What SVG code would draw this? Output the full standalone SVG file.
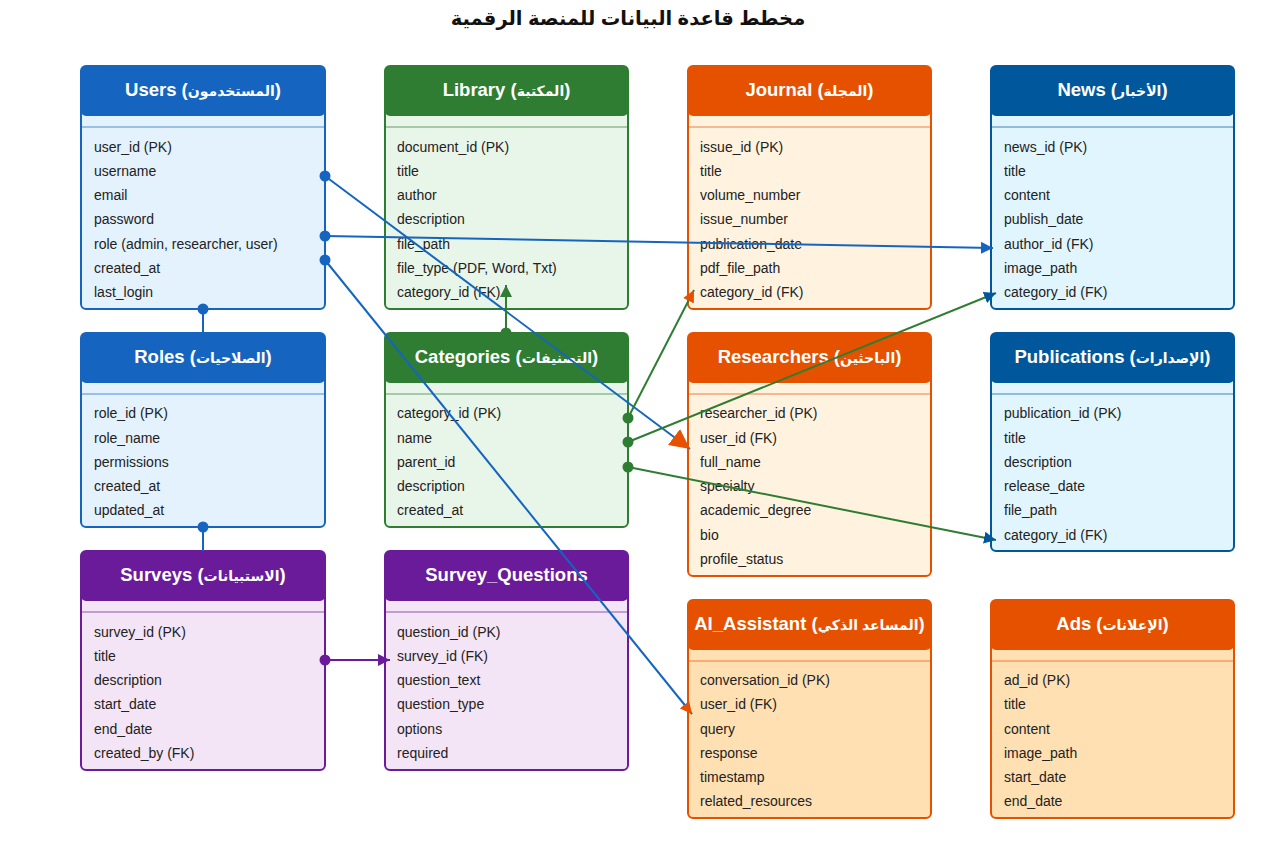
<svg xmlns="http://www.w3.org/2000/svg" width="1268" height="861" viewBox="0 0 1268 861">
  <style>
    text { font-family: "Liberation Sans", "DejaVu Sans", Arial, sans-serif; }
    .title { font-size: 19.5px; font-weight: bold; fill: #111; }
    .hdr { font-size: 18.5px; font-weight: bold; fill: #fff; }
    .ar { font-size: 14px; }
    .fld { font-size: 14px; fill: #222; }
    .box { stroke-width: 2; }
    .sep { stroke-width: 1.2; opacity: 0.7; }
    .blue .box { fill: #E3F2FD; stroke: #1565C0; } .blue .head { fill: #1565C0; } .blue .sep { stroke: #1565C0; }
    .green .box { fill: #E8F5E9; stroke: #2E7D32; } .green .head { fill: #2E7D32; } .green .sep { stroke: #2E7D32; }
    .orange .box { fill: #FFF3E0; stroke: #E65100; } .orange .head { fill: #E65100; } .orange .sep { stroke: #E65100; }
    .amber .box { fill: #FFE0B2; stroke: #E65100; } .amber .head { fill: #E65100; } .amber .sep { stroke: #E65100; }
    .navy .box { fill: #E1F5FE; stroke: #01579B; } .navy .head { fill: #01579B; } .navy .sep { stroke: #01579B; }
    .purple .box { fill: #F3E5F5; stroke: #6A1B9A; } .purple .head { fill: #6A1B9A; } .purple .sep { stroke: #6A1B9A; }
    .link { fill: none; stroke-width: 2; }
    .l-blue { stroke: #1565C0; } .l-green { stroke: #2E7D32; } .l-purple { stroke: #6A1B9A; }
  </style>
  <defs>
    <marker id="arr-orange" viewBox="0 0 10 10" refX="10" refY="5" markerWidth="12" markerHeight="12" markerUnits="userSpaceOnUse" orient="auto"><path d="M0,0 L10,5 L0,10 z" fill="#E65100"/></marker>
    <marker id="arr-orange-lg" viewBox="0 0 10 10" refX="10" refY="5" markerWidth="20" markerHeight="20" markerUnits="userSpaceOnUse" orient="auto"><path d="M0,0 L10,5 L0,10 z" fill="#E65100"/></marker>
    <marker id="arr-blue" viewBox="0 0 10 10" refX="10" refY="5" markerWidth="12" markerHeight="12" markerUnits="userSpaceOnUse" orient="auto"><path d="M0,0 L10,5 L0,10 z" fill="#1565C0"/></marker>
    <marker id="arr-navy" viewBox="0 0 10 10" refX="10" refY="5" markerWidth="12" markerHeight="12" markerUnits="userSpaceOnUse" orient="auto"><path d="M0,0 L10,5 L0,10 z" fill="#01579B"/></marker>
    <marker id="arr-green" viewBox="0 0 10 10" refX="10" refY="5" markerWidth="12" markerHeight="12" markerUnits="userSpaceOnUse" orient="auto"><path d="M0,0 L10,5 L0,10 z" fill="#2E7D32"/></marker>
    <marker id="arr-purple" viewBox="0 0 10 10" refX="10" refY="5" markerWidth="12" markerHeight="12" markerUnits="userSpaceOnUse" orient="auto"><path d="M0,0 L10,5 L0,10 z" fill="#6A1B9A"/></marker>
  </defs>

  <rect width="1268" height="861" fill="#ffffff"/>
  <text class="title" x="628" y="25" text-anchor="middle">مخطط قاعدة البيانات للمنصة الرقمية</text>

  <!-- Row 1 -->
  <g id="users" class="blue" transform="translate(81,66)">
    <rect class="box" width="244" height="243" rx="5"/>
    <rect class="head" width="244" height="50" rx="5"/>
    <line class="sep" x1="0" y1="61" x2="244" y2="61"/>
    <text class="hdr" x="122" y="30" text-anchor="middle">Users (<tspan class="ar">المستخدمون</tspan>)</text>
    <text class="fld" x="13" y="86">user_id (PK)</text>
    <text class="fld" x="13" y="110">username</text>
    <text class="fld" x="13" y="134">email</text>
    <text class="fld" x="13" y="158">password</text>
    <text class="fld" x="13" y="183">role (admin, researcher, user)</text>
    <text class="fld" x="13" y="207">created_at</text>
    <text class="fld" x="13" y="231">last_login</text>
  </g>

  <g id="library" class="green" transform="translate(385,66)">
    <rect class="box" width="243" height="243" rx="5"/>
    <rect class="head" width="243" height="50" rx="5"/>
    <line class="sep" x1="0" y1="61" x2="243" y2="61"/>
    <text class="hdr" x="121.5" y="30" text-anchor="middle">Library (<tspan class="ar">المكتبة</tspan>)</text>
    <text class="fld" x="12" y="86">document_id (PK)</text>
    <text class="fld" x="12" y="110">title</text>
    <text class="fld" x="12" y="134">author</text>
    <text class="fld" x="12" y="158">description</text>
    <text class="fld" x="12" y="183">file_path</text>
    <text class="fld" x="12" y="207">file_type (PDF, Word, Txt)</text>
    <text class="fld" x="12" y="231">category_id (FK)</text>
  </g>

  <g id="journal" class="orange" transform="translate(688,66)">
    <rect class="box" width="243" height="243" rx="5"/>
    <rect class="head" width="243" height="50" rx="5"/>
    <line class="sep" x1="0" y1="61" x2="243" y2="61"/>
    <text class="hdr" x="121.5" y="30" text-anchor="middle">Journal (<tspan class="ar">المجلة</tspan>)</text>
    <text class="fld" x="12" y="86">issue_id (PK)</text>
    <text class="fld" x="12" y="110">title</text>
    <text class="fld" x="12" y="134">volume_number</text>
    <text class="fld" x="12" y="158">issue_number</text>
    <text class="fld" x="12" y="183">publication_date</text>
    <text class="fld" x="12" y="207">pdf_file_path</text>
    <text class="fld" x="12" y="231">category_id (FK)</text>
  </g>

  <g id="news" class="navy" transform="translate(991,66)">
    <rect class="box" width="243" height="243" rx="5"/>
    <rect class="head" width="243" height="50" rx="5"/>
    <line class="sep" x1="0" y1="61" x2="243" y2="61"/>
    <text class="hdr" x="121.5" y="30" text-anchor="middle">News (<tspan class="ar">الأخبار</tspan>)</text>
    <text class="fld" x="13" y="86">news_id (PK)</text>
    <text class="fld" x="13" y="110">title</text>
    <text class="fld" x="13" y="134">content</text>
    <text class="fld" x="13" y="158">publish_date</text>
    <text class="fld" x="13" y="183">author_id (FK)</text>
    <text class="fld" x="13" y="207">image_path</text>
    <text class="fld" x="13" y="231">category_id (FK)</text>
  </g>

  <!-- Row 2 -->
  <g id="roles" class="blue" transform="translate(81,333)">
    <rect class="box" width="244" height="194" rx="5"/>
    <rect class="head" width="244" height="50" rx="5"/>
    <line class="sep" x1="0" y1="61" x2="244" y2="61"/>
    <text class="hdr" x="122" y="30" text-anchor="middle">Roles (<tspan class="ar">الصلاحيات</tspan>)</text>
    <text class="fld" x="13" y="85">role_id (PK)</text>
    <text class="fld" x="13" y="110">role_name</text>
    <text class="fld" x="13" y="134">permissions</text>
    <text class="fld" x="13" y="158">created_at</text>
    <text class="fld" x="13" y="182">updated_at</text>
  </g>

  <g id="categories" class="green" transform="translate(385,333)">
    <rect class="box" width="243" height="194" rx="5"/>
    <rect class="head" width="243" height="50" rx="5"/>
    <line class="sep" x1="0" y1="61" x2="243" y2="61"/>
    <text class="hdr" x="121.5" y="30" text-anchor="middle">Categories (<tspan class="ar">التصنيفات</tspan>)</text>
    <text class="fld" x="12" y="85">category_id (PK)</text>
    <text class="fld" x="12" y="110">name</text>
    <text class="fld" x="12" y="134">parent_id</text>
    <text class="fld" x="12" y="158">description</text>
    <text class="fld" x="12" y="182">created_at</text>
  </g>

  <g id="researchers" class="orange" transform="translate(688,333)">
    <rect class="box" width="243" height="243" rx="5"/>
    <rect class="head" width="243" height="50" rx="5"/>
    <line class="sep" x1="0" y1="61" x2="243" y2="61"/>
    <text class="hdr" x="121.5" y="30" text-anchor="middle">Researchers (<tspan class="ar">الباحثين</tspan>)</text>
    <text class="fld" x="12" y="85">researcher_id (PK)</text>
    <text class="fld" x="12" y="110">user_id (FK)</text>
    <text class="fld" x="12" y="134">full_name</text>
    <text class="fld" x="12" y="158">specialty</text>
    <text class="fld" x="12" y="182">academic_degree</text>
    <text class="fld" x="12" y="207">bio</text>
    <text class="fld" x="12" y="231">profile_status</text>
  </g>

  <g id="publications" class="navy" transform="translate(991,333)">
    <rect class="box" width="243" height="218" rx="5"/>
    <rect class="head" width="243" height="50" rx="5"/>
    <line class="sep" x1="0" y1="61" x2="243" y2="61"/>
    <text class="hdr" x="121.5" y="30" text-anchor="middle">Publications (<tspan class="ar">الإصدارات</tspan>)</text>
    <text class="fld" x="13" y="85">publication_id (PK)</text>
    <text class="fld" x="13" y="110">title</text>
    <text class="fld" x="13" y="134">description</text>
    <text class="fld" x="13" y="158">release_date</text>
    <text class="fld" x="13" y="182">file_path</text>
    <text class="fld" x="13" y="207">category_id (FK)</text>
  </g>

  <!-- Row 3 -->
  <g id="surveys" class="purple" transform="translate(81,551)">
    <rect class="box" width="244" height="219" rx="5"/>
    <rect class="head" width="244" height="50" rx="5"/>
    <line class="sep" x1="0" y1="61" x2="244" y2="61"/>
    <text class="hdr" x="122" y="30" text-anchor="middle">Surveys (<tspan class="ar">الاستبيانات</tspan>)</text>
    <text class="fld" x="13" y="86">survey_id (PK)</text>
    <text class="fld" x="13" y="110">title</text>
    <text class="fld" x="13" y="134">description</text>
    <text class="fld" x="13" y="158">start_date</text>
    <text class="fld" x="13" y="183">end_date</text>
    <text class="fld" x="13" y="207">created_by (FK)</text>
  </g>

  <g id="survey_questions" class="purple" transform="translate(385,551)">
    <rect class="box" width="243" height="219" rx="5"/>
    <rect class="head" width="243" height="50" rx="5"/>
    <line class="sep" x1="0" y1="61" x2="243" y2="61"/>
    <text class="hdr" x="121.5" y="30" text-anchor="middle">Survey_Questions</text>
    <text class="fld" x="12" y="86">question_id (PK)</text>
    <text class="fld" x="12" y="110">survey_id (FK)</text>
    <text class="fld" x="12" y="134">question_text</text>
    <text class="fld" x="12" y="158">question_type</text>
    <text class="fld" x="12" y="183">options</text>
    <text class="fld" x="12" y="207">required</text>
  </g>

  <g id="ai_assistant" class="amber" transform="translate(688,600)">
    <rect class="box" width="243" height="218" rx="5"/>
    <rect class="head" width="243" height="50" rx="5"/>
    <line class="sep" x1="0" y1="61" x2="243" y2="61"/>
    <text class="hdr" x="121.5" y="30" text-anchor="middle">AI_Assistant (<tspan class="ar">المساعد الذكي</tspan>)</text>
    <text class="fld" x="12" y="85">conversation_id (PK)</text>
    <text class="fld" x="12" y="109">user_id (FK)</text>
    <text class="fld" x="12" y="134">query</text>
    <text class="fld" x="12" y="158">response</text>
    <text class="fld" x="12" y="182">timestamp</text>
    <text class="fld" x="12" y="206">related_resources</text>
  </g>

  <g id="ads" class="amber" transform="translate(991,600)">
    <rect class="box" width="243" height="218" rx="5"/>
    <rect class="head" width="243" height="50" rx="5"/>
    <line class="sep" x1="0" y1="61" x2="243" y2="61"/>
    <text class="hdr" x="121.5" y="30" text-anchor="middle">Ads (<tspan class="ar">الإعلانات</tspan>)</text>
    <text class="fld" x="13" y="85">ad_id (PK)</text>
    <text class="fld" x="13" y="109">title</text>
    <text class="fld" x="13" y="134">content</text>
    <text class="fld" x="13" y="158">image_path</text>
    <text class="fld" x="13" y="182">start_date</text>
    <text class="fld" x="13" y="206">end_date</text>
  </g>

  <!-- Relationships -->
  <g id="connectors">
    <line class="link l-blue" x1="203" y1="309" x2="203" y2="333"/>
    <line class="link l-blue" x1="203" y1="527" x2="203" y2="551"/>
    <line class="link l-blue" x1="325" y1="176" x2="690" y2="449" marker-end="url(#arr-orange-lg)"/>
    <line class="link l-blue" x1="325" y1="236" x2="993" y2="248" marker-end="url(#arr-blue)"/>
    <line class="link l-blue" x1="325" y1="260" x2="692" y2="714" marker-end="url(#arr-orange)"/>
    <line class="link l-green" x1="506" y1="333" x2="506" y2="285" marker-end="url(#arr-green)"/>
    <line class="link l-green" x1="628" y1="418" x2="694" y2="290" marker-end="url(#arr-orange)"/>
    <line class="link l-green" x1="628" y1="442" x2="996" y2="293" marker-end="url(#arr-navy)"/>
    <line class="link l-green" x1="628" y1="467" x2="996" y2="540" marker-end="url(#arr-navy)"/>
    <line class="link l-purple" x1="325" y1="660" x2="390" y2="660" marker-end="url(#arr-purple)"/>
    <g fill="#1565C0">
      <circle cx="203" cy="309" r="5.5"/>
      <circle cx="203" cy="527" r="5.5"/>
      <circle cx="325" cy="176" r="5.5"/>
      <circle cx="325" cy="236" r="5.5"/>
      <circle cx="325" cy="260" r="5.5"/>
    </g>
    <g fill="#2E7D32">
      <circle cx="506" cy="333" r="5.5"/>
      <circle cx="628" cy="418" r="5.5"/>
      <circle cx="628" cy="442" r="5.5"/>
      <circle cx="628" cy="467" r="5.5"/>
    </g>
    <circle cx="325" cy="660" r="5.5" fill="#6A1B9A"/>
  </g>
</svg>
